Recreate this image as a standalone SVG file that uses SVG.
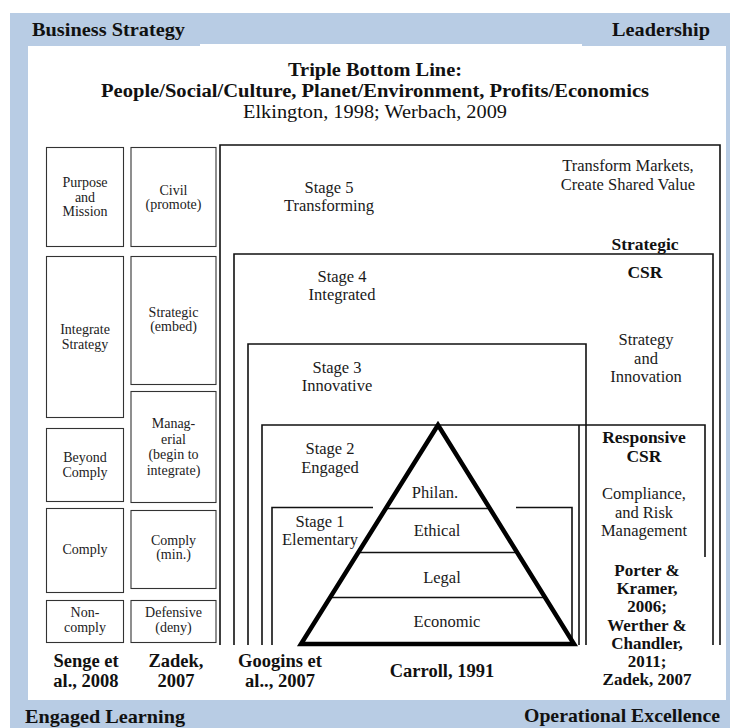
<svg xmlns="http://www.w3.org/2000/svg" width="730" height="728" viewBox="0 0 730 728">
  <style>
    text { font-family: "Liberation Serif", "Times New Roman", serif; fill: #111; }
    .corner { font-size: 19px; font-weight: bold; }
    .title { font-size: 18.5px; font-weight: bold; text-anchor: middle; }
    .sub { font-size: 18px; text-anchor: middle; }
    .box { font-size: 14px; text-anchor: middle; fill: #222; }
    .lbl { font-size: 16.5px; text-anchor: middle; fill: #1a1a1a; }
    .cite { font-size: 18.5px; font-weight: bold; text-anchor: middle; }
    .rcite { font-size: 17px; font-weight: bold; text-anchor: middle; }
    .head { font-size: 17.5px; font-weight: bold; text-anchor: middle; }
    .cell { fill: #fff; stroke: #333; stroke-width: 1.1; }
    .frame { fill: none; stroke: #111; stroke-width: 1.6; }
    .layer { fill: none; stroke: #111; stroke-width: 1.6; }
  </style>

  <!-- page band and inner panel -->
  <rect x="10" y="13" width="720" height="715" fill="#b8cce4"/>
  <rect x="28" y="46" width="698" height="654" fill="#fff"/>
  <rect x="200" y="44" width="382" height="4" fill="#fff"/>
  <rect x="190" y="698" width="536" height="2" fill="#fff"/>

  <g id="corner-labels">
    <text class="corner" x="32" y="36" textLength="153" lengthAdjust="spacingAndGlyphs">Business Strategy</text>
    <text class="corner" x="612" y="36" textLength="98" lengthAdjust="spacingAndGlyphs">Leadership</text>
    <text class="corner" x="25" y="723" textLength="160" lengthAdjust="spacingAndGlyphs">Engaged Learning</text>
    <text class="corner" x="524" y="722" textLength="196" lengthAdjust="spacingAndGlyphs">Operational Excellence</text>
  </g>

  <g id="title">
    <text class="title" x="375" y="76" textLength="174" lengthAdjust="spacingAndGlyphs">Triple Bottom Line:</text>
    <text class="title" x="375" y="97" textLength="548" lengthAdjust="spacingAndGlyphs">People/Social/Culture, Planet/Environment, Profits/Economics</text>
    <text class="sub" x="375" y="118" textLength="264" lengthAdjust="spacingAndGlyphs">Elkington, 1998; Werbach, 2009</text>
  </g>

  <!-- Senge et al. column -->
  <g id="senge-purpose">
    <rect class="cell" x="46.5" y="147.5" width="77" height="99"/>
    <text class="box" x="85" y="187">Purpose</text>
    <text class="box" x="85" y="201.5">and</text>
    <text class="box" x="85" y="216">Mission</text>
  </g>
  <g id="senge-integrate">
    <rect class="cell" x="46.5" y="256.5" width="77" height="161"/>
    <text class="box" x="85" y="334">Integrate</text>
    <text class="box" x="85" y="349">Strategy</text>
  </g>
  <g id="senge-beyond">
    <rect class="cell" x="46.5" y="428.5" width="77" height="73"/>
    <text class="box" x="85" y="462">Beyond</text>
    <text class="box" x="85" y="476.5">Comply</text>
  </g>
  <g id="senge-comply">
    <rect class="cell" x="46.5" y="508.5" width="77" height="84"/>
    <text class="box" x="85" y="554">Comply</text>
  </g>
  <g id="senge-noncomply">
    <rect class="cell" x="46.5" y="600.5" width="77" height="42"/>
    <text class="box" x="85" y="617">Non-</text>
    <text class="box" x="85" y="632">comply</text>
  </g>
  <g id="senge-cite">
    <text class="cite" x="86" y="667">Senge et</text>
    <text class="cite" x="86" y="687">al., 2008</text>
  </g>

  <!-- Zadek column -->
  <g id="zadek-civil">
    <rect class="cell" x="131" y="147.5" width="85" height="99"/>
    <text class="box" x="173.5" y="194.5">Civil</text>
    <text class="box" x="173.5" y="208.5">(promote)</text>
  </g>
  <g id="zadek-strategic">
    <rect class="cell" x="131" y="256.5" width="85" height="128"/>
    <text class="box" x="173.5" y="317">Strategic</text>
    <text class="box" x="173.5" y="331">(embed)</text>
  </g>
  <g id="zadek-managerial">
    <rect class="cell" x="131" y="391.5" width="85" height="111"/>
    <text class="box" x="173.5" y="428">Manag-</text>
    <text class="box" x="173.5" y="443.5">erial</text>
    <text class="box" x="173.5" y="459">(begin to</text>
    <text class="box" x="173.5" y="474.5">integrate)</text>
  </g>
  <g id="zadek-comply">
    <rect class="cell" x="131" y="510.5" width="85" height="78"/>
    <text class="box" x="173.5" y="545">Comply</text>
    <text class="box" x="173.5" y="559">(min.)</text>
  </g>
  <g id="zadek-defensive">
    <rect class="cell" x="131" y="600.5" width="85" height="42"/>
    <text class="box" x="173.5" y="617">Defensive</text>
    <text class="box" x="173.5" y="632">(deny)</text>
  </g>
  <g id="zadek-cite">
    <text class="cite" x="176" y="667">Zadek,</text>
    <text class="cite" x="176" y="687">2007</text>
  </g>

  <!-- nested stage frames, open at the bottom -->
  <g id="stage5">
    <path class="frame" d="M220 645 V145 H720 V645" stroke-width="2.4"/>
    <text class="lbl" x="329" y="193">Stage 5</text>
    <text class="lbl" x="329" y="211">Transforming</text>
  </g>
  <g id="stage4">
    <path class="frame" d="M234 645 V254 H713 V645"/>
    <text class="lbl" x="342" y="282">Stage 4</text>
    <text class="lbl" x="342" y="300">Integrated</text>
  </g>
  <g id="stage3">
    <path class="frame" d="M248 645 V344 H586 V645"/>
    <text class="lbl" x="337" y="373">Stage 3</text>
    <text class="lbl" x="337" y="391">Innovative</text>
  </g>
  <g id="stage2">
    <path class="frame" d="M262 645 V425 H705 V557"/>
    <line class="frame" x1="579" y1="425" x2="579" y2="645"/>
    <text class="lbl" x="330" y="454">Stage 2</text>
    <text class="lbl" x="330" y="472.5">Engaged</text>
  </g>
  <g id="stage1">
    <path class="frame" d="M272 645 V507.5 H373"/>
    <path class="frame" d="M516 507.5 H572 V645"/>
    <text class="lbl" x="320" y="527">Stage 1</text>
    <text class="lbl" x="320" y="545">Elementary</text>
  </g>
  <g id="googins-cite">
    <text class="cite" x="280" y="667">Googins et</text>
    <text class="cite" x="280" y="687">al.., 2007</text>
  </g>

  <!-- Carroll pyramid -->
  <g id="pyramid">
    <line class="layer" x1="385" y1="508.5" x2="490" y2="508.5"/>
    <line class="layer" x1="357" y1="552.5" x2="518" y2="552.5"/>
    <line class="layer" x1="329" y1="597.5" x2="546" y2="597.5"/>
    <polygon points="438,425 301,644 574,644" fill="none" stroke="#000" stroke-width="4.5" stroke-linejoin="miter"/>
    <text class="lbl" x="435" y="498">Philan.</text>
    <text class="lbl" x="437" y="536">Ethical</text>
    <text class="lbl" x="442" y="583">Legal</text>
    <text class="lbl" x="447" y="627">Economic</text>
  </g>
  <g id="carroll-cite">
    <text class="cite" x="442" y="677">Carroll, 1991</text>
  </g>

  <!-- right-hand annotations -->
  <g id="transform-markets">
    <text class="lbl" x="628" y="171">Transform Markets,</text>
    <text class="lbl" x="628" y="189.5">Create Shared Value</text>
  </g>
  <g id="strategic-csr">
    <text class="head" x="645" y="250">Strategic</text>
    <text class="head" x="645" y="278">CSR</text>
  </g>
  <g id="strategy-innovation">
    <text class="lbl" x="646" y="345">Strategy</text>
    <text class="lbl" x="646" y="363.5">and</text>
    <text class="lbl" x="646" y="382">Innovation</text>
  </g>
  <g id="responsive-csr">
    <text class="head" x="644" y="443">Responsive</text>
    <text class="head" x="644" y="462">CSR</text>
  </g>
  <g id="compliance">
    <text class="lbl" x="644" y="499">Compliance,</text>
    <text class="lbl" x="644" y="517.5">and Risk</text>
    <text class="lbl" x="644" y="536">Management</text>
  </g>
  <g id="porter-cite">
    <text class="rcite" x="647" y="576">Porter &amp;</text>
    <text class="rcite" x="647" y="594">Kramer,</text>
    <text class="rcite" x="647" y="612">2006;</text>
    <text class="rcite" x="647" y="631">Werther &amp;</text>
    <text class="rcite" x="647" y="649">Chandler,</text>
    <text class="rcite" x="647" y="667">2011;</text>
    <text class="rcite" x="647" y="685">Zadek, 2007</text>
  </g>
</svg>
